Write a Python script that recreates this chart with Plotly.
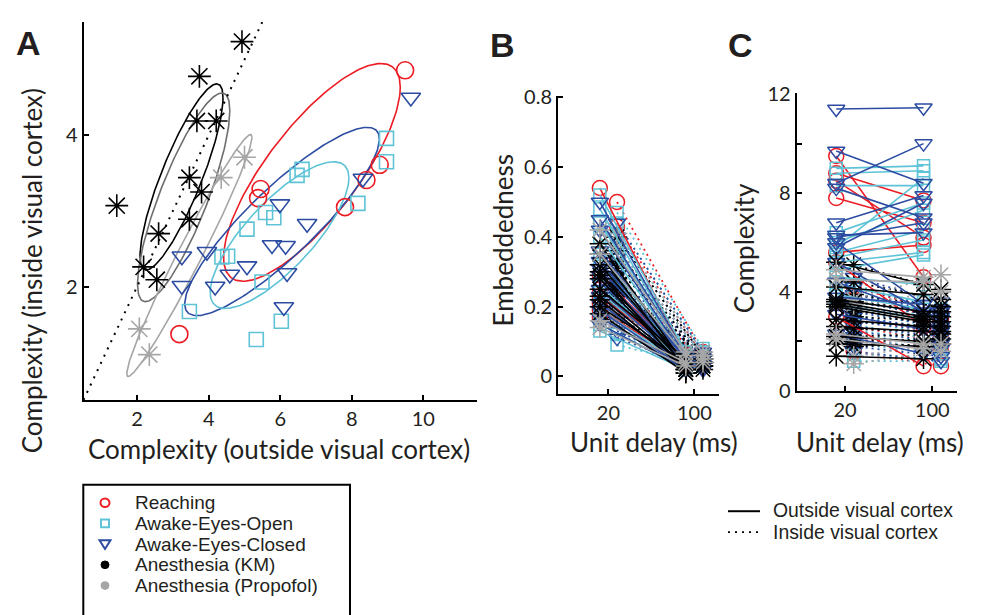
import numpy as np
import plotly.graph_objects as go

W, H = 984, 615
FONT = "Lato"
LFONT = "Liberation Sans"

# ---------------- Panel A : complexity outside (x) vs inside (y) visual cortex
reach_x = [9.49, 5.45, 5.38, 8.78, 8.41, 7.81, 3.18]
reach_y = [4.86, 3.29, 3.17, 3.61, 3.41, 3.05, 1.37]
open_x = [8.97, 8.97, 6.61, 6.47, 8.17, 5.59, 5.82, 5.07, 4.37, 4.53, 5.49, 3.46, 6.03, 5.33]
open_y = [3.96, 3.65, 3.55, 3.47, 3.10, 2.98, 2.91, 2.76, 2.39, 2.40, 2.06, 1.67, 1.54, 1.30]
closed_x = [9.65, 8.31, 5.99, 6.75, 5.77, 6.15, 3.25, 3.95, 5.07, 4.59, 6.19, 3.25, 4.18, 6.10]
closed_y = [4.50, 3.43, 3.09, 2.83, 2.55, 2.54, 2.40, 2.46, 2.27, 2.16, 2.18, 2.01, 2.00, 1.73]
km_x = [4.93, 3.74, 3.67, 4.21, 1.43, 3.46, 3.80, 3.46, 2.60, 2.18, 2.55]
km_y = [5.24, 4.78, 4.19, 4.19, 3.07, 3.44, 3.25, 2.89, 2.70, 2.26, 2.09]
prop_x = [5.00, 4.35, 2.06, 2.34]
prop_y = [3.71, 3.44, 1.44, 1.10]

# covariance ellipses (centre, spread, correlation)
ell_cx = [6.885, 6.05, 5.98, 3.24, 3.30, 3.46]
ell_cy = [3.51, 2.86, 2.68, 3.45, 3.18, 2.41]
ell_sx = [2.47, 2.72, 1.94, 1.16, 1.29, 1.75]
ell_sy = [1.44, 1.245, 0.97, 1.23, 1.38, 1.60]
ell_rho = [0.78, 0.875, 0.78, 0.85, 0.83, 0.977]

# ---------------- Panel B : embeddedness at unit delays 20 / 100 ms
delays = ["20", "100"]
reach_b_out20 = [0.54, 0.29, 0.25, 0.23, 0.21, 0.19, 0.17]
reach_b_out100 = [0.06, 0.05, 0.04, 0.05, 0.03, 0.04, 0.03]
reach_b_in20 = [0.50, 0.43, 0.34, 0.27, 0.23, 0.20, 0.16]
reach_b_in100 = [0.07, 0.06, 0.05, 0.05, 0.04, 0.04, 0.03]
open_b_out20 = [0.52, 0.48, 0.44, 0.40, 0.35, 0.32, 0.29, 0.26, 0.24, 0.21, 0.19, 0.17, 0.15, 0.13]
open_b_out100 = [0.07, 0.06, 0.06, 0.05, 0.05, 0.05, 0.04, 0.04, 0.04, 0.03, 0.03, 0.03, 0.02, 0.02]
open_b_in20 = [0.47, 0.44, 0.41, 0.37, 0.34, 0.31, 0.28, 0.25, 0.22, 0.19, 0.16, 0.14, 0.12, 0.09]
open_b_in100 = [0.08, 0.07, 0.07, 0.06, 0.06, 0.05, 0.05, 0.05, 0.04, 0.04, 0.04, 0.03, 0.03, 0.03]
closed_b_out20 = [0.50, 0.45, 0.42, 0.36, 0.33, 0.31, 0.29, 0.27, 0.25, 0.23, 0.21, 0.19, 0.17, 0.15]
closed_b_out100 = [0.06, 0.06, 0.05, 0.05, 0.05, 0.04, 0.04, 0.04, 0.03, 0.03, 0.03, 0.02, 0.02, 0.02]
closed_b_in20 = [0.44, 0.40, 0.37, 0.34, 0.31, 0.29, 0.27, 0.25, 0.23, 0.21, 0.19, 0.16, 0.13, 0.11]
closed_b_in100 = [0.07, 0.06, 0.06, 0.05, 0.05, 0.05, 0.04, 0.04, 0.04, 0.03, 0.03, 0.03, 0.02, 0.02]
km_b_out20 = [0.38, 0.35, 0.32, 0.30, 0.29, 0.28, 0.25, 0.23, 0.22, 0.20, 0.18]
km_b_out100 = [0.03, 0.02, 0.04, 0.01, 0.03, 0.02, 0.05, 0.03, 0.02, 0.04, 0.01]
km_b_in20 = [0.40, 0.36, 0.33, 0.31, 0.28, 0.26, 0.25, 0.23, 0.21, 0.19, 0.17]
km_b_in100 = [0.06, 0.05, 0.04, 0.05, 0.03, 0.04, 0.05, 0.03, 0.04, 0.02, 0.03]
prop_b_out20 = [0.42, 0.35, 0.16, 0.14]
prop_b_out100 = [0.07, 0.06, 0.04, 0.03]
prop_b_in20 = [0.41, 0.37, 0.19, 0.16]
prop_b_in100 = [0.07, 0.06, 0.05, 0.04]

# ---------------- Panel C : complexity at unit delays 20 / 100 ms
reach_c_out20 = [9.5, 8.8, 8.5, 7.8, 5.6, 5.2, 3.0]
reach_c_out100 = [4.6, 7.7, 6.2, 6.8, 5.9, 2.6, 1.0]
reach_c_in20 = [4.2, 3.8, 3.3, 3.0, 2.6, 2.2, 1.6]
reach_c_in100 = [3.2, 2.9, 2.6, 2.3, 2.0, 1.6, 1.0]
open_c_out20 = [9.0, 8.8, 8.3, 6.4, 6.0, 5.8, 5.6, 5.4, 5.2, 4.9, 4.6, 4.3, 3.9, 3.5]
open_c_out100 = [9.1, 8.9, 8.3, 7.6, 7.3, 8.6, 6.5, 6.1, 5.6, 5.5, 4.3, 3.6, 3.3, 2.9]
open_c_in20 = [4.3, 4.0, 3.8, 3.5, 3.3, 3.1, 2.9, 2.7, 2.5, 2.3, 2.1, 1.9, 1.5, 1.2]
open_c_in100 = [3.3, 3.0, 2.8, 2.7, 2.5, 2.3, 2.2, 2.0, 1.9, 1.8, 1.7, 1.5, 1.3, 1.2]
closed_c_out20 = [11.4, 9.7, 8.4, 8.2, 6.8, 6.3, 6.2, 6.0, 5.8, 5.2, 4.4, 3.8, 3.1, 2.3]
closed_c_out100 = [11.45, 8.4, 10.0, 7.0, 7.9, 6.4, 6.8, 3.5, 7.6, 3.2, 3.1, 3.5, 2.5, 1.5]
closed_c_in20 = [4.6, 4.2, 3.9, 3.6, 3.4, 3.2, 3.0, 2.8, 2.6, 2.4, 2.2, 2.0, 1.8, 1.6]
closed_c_in100 = [3.6, 3.3, 3.2, 3.0, 2.9, 2.6, 2.5, 2.4, 2.2, 2.0, 1.9, 1.7, 1.4, 1.2]
km_c_out20 = [5.2, 4.2, 3.7, 3.6, 3.5, 3.4, 2.9, 2.6, 2.2, 1.9, 1.4]
km_c_out100 = [4.3, 3.9, 3.2, 3.0, 2.9, 2.8, 2.6, 2.4, 2.0, 1.8, 1.3]
km_c_in20 = [5.1, 4.4, 3.9, 3.6, 3.2, 3.0, 2.8, 2.5, 2.2, 2.0, 1.8]
km_c_in100 = [4.1, 3.7, 3.4, 3.2, 3.0, 2.8, 2.6, 2.4, 2.3, 2.1, 1.9]
prop_c_out20 = [4.9, 4.5, 2.3, 2.1]
prop_c_out100 = [4.6, 4.4, 1.9, 1.7]
prop_c_in20 = [3.7, 3.5, 1.4, 1.1]
prop_c_in100 = [4.7, 4.0, 1.9, 1.6]

group_names = ["Reaching", "Awake-Eyes-Open", "Awake-Eyes-Closed", "Anesthesia (KM)", "Anesthesia (Propofol)"]
line_labels = ["Outside visual cortex", "Inside visual cortex"]

# ---------------- styles
RED, CYAN, BLUE, BLACK, GRAY, DGRAY = "#ec1c24", "#5ec3d6", "#2c4ca2", "#000000", "#a6a6a6", "#6e6e6e"
colors = [RED, CYAN, BLUE, BLACK, GRAY]
symbols = ["circle-open", "square-open", "triangle-down-open", "asterisk-open", "asterisk-open"]
sizesA = [17, 14, 17, 19, 19]
sizesBC = [15, 12, 15, 17, 17]
ell_colors = [RED, BLUE, CYAN, BLACK, DGRAY, GRAY]
DOT = "2px,4px"

# the page puts the figure 8 px in from the top-left corner; layout positions below
# are given in picture pixels and converted to paper fractions here
OX, OY = 8, 8


def px(x):
    return (x - OX) / W


def py(y):
    return 1 - (y - OY) / H


fig = go.Figure()

# ----- Panel A
for cx, cy, sx, sy, r, c in zip(ell_cx, ell_cy, ell_sx, ell_sy, ell_rho, ell_colors):
    t = np.linspace(0, 2 * np.pi, 200)
    ex = cx + sx * np.cos(t)
    ey = cy + sy * (r * np.cos(t) + np.sqrt(1 - r * r) * np.sin(t))
    fig.add_trace(go.Scatter(x=ex, y=ey, mode="lines", line=dict(color=c, width=1.6),
                             xaxis="x", yaxis="y", showlegend=False, hoverinfo="skip"))

ax_pts = [(reach_x, reach_y), (open_x, open_y), (closed_x, closed_y), (km_x, km_y), (prop_x, prop_y)]
for i, (xs, ys) in enumerate(ax_pts):
    fig.add_trace(go.Scatter(x=xs, y=ys, mode="markers", name=group_names[i],
                             marker=dict(symbol=symbols[i], size=sizesA[i], color=colors[i],
                                         line=dict(color=colors[i], width=1.6)),
                             xaxis="x", yaxis="y", showlegend=False))

fig.add_shape(type="line", xref="x", yref="y", x0=0.5, y0=0.5, x1=5.5, y1=5.5,
              line=dict(color="black", width=2, dash="2px,6px"))

# ----- Panels B and C
OFF = 0.1


def add_pairs(v20, v100, off, gi, dash, xa, ya):
    xs, ys = [], []
    for a, b in zip(v20, v100):
        xs += [delays.index("20") + off, delays.index("100") + off, None]
        ys += [a, b, None]
    fig.add_trace(go.Scatter(x=xs, y=ys, mode="lines+markers", connectgaps=False,
                             line=dict(color=colors[gi], width=1.6 if dash == "solid" else 1.8, dash=dash),
                             marker=dict(symbol=symbols[gi], size=sizesBC[gi], color=colors[gi],
                                         line=dict(color=colors[gi], width=1.5)),
                             xaxis=xa, yaxis=ya, showlegend=False, hoverinfo="skip"))


b_sets = [
    (reach_b_out20, reach_b_out100, reach_b_in20, reach_b_in100),
    (open_b_out20, open_b_out100, open_b_in20, open_b_in100),
    (closed_b_out20, closed_b_out100, closed_b_in20, closed_b_in100),
    (km_b_out20, km_b_out100, km_b_in20, km_b_in100),
    (prop_b_out20, prop_b_out100, prop_b_in20, prop_b_in100),
]
c_sets = [
    (reach_c_out20, reach_c_out100, reach_c_in20, reach_c_in100),
    (open_c_out20, open_c_out100, open_c_in20, open_c_in100),
    (closed_c_out20, closed_c_out100, closed_c_in20, closed_c_in100),
    (km_c_out20, km_c_out100, km_c_in20, km_c_in100),
    (prop_c_out20, prop_c_out100, prop_c_in20, prop_c_in100),
]
for sets, xa, ya in [(b_sets, "x2", "y2"), (c_sets, "x3", "y3")]:
    for gi, (o20, o100, i20, i100) in enumerate(sets):
        add_pairs(i20, i100, +OFF, gi, DOT, xa, ya)
    for gi, (o20, o100, i20, i100) in enumerate(sets):
        add_pairs(o20, o100, -OFF, gi, "solid", xa, ya)

# ----- axes
axis_common = dict(showline=True, linecolor="black", linewidth=2, ticks="inside", ticklen=5,
                   tickwidth=1.5, tickcolor="black", showgrid=False, zeroline=False,
                   tickfont=dict(family=FONT, size=20, color="#231f20"), mirror=False)

layout = dict(
    width=W, height=H, margin=dict(l=0, r=0, t=0, b=0),
    paper_bgcolor="white", plot_bgcolor="rgba(0,0,0,0)", showlegend=False,
    xaxis=dict(domain=[px(83.5), px(477)], range=[0.5, 11.5], tickvals=[2, 4, 6, 8, 10],
               anchor="y", **axis_common),
    yaxis=dict(domain=[py(402.7), py(10)], range=[0.5, 5.5], tickvals=[2, 4], anchor="x", **axis_common),
    xaxis2=dict(domain=[px(558), px(719.3)], range=[-0.587, 1.29], tickvals=[0, 1], ticktext=delays,
                anchor="y2", **axis_common),
    yaxis2=dict(domain=[py(396.7), py(86.7)], range=[-0.0507, 0.8044], tickvals=[0, 0.2, 0.4, 0.6, 0.8],
                ticktext=["0", "0.2", "0.4", "0.6", "0.8"], anchor="x2", **axis_common),
    xaxis3=dict(domain=[px(796.7), px(956.7)], range=[-0.553, 1.28], tickvals=[0, 1], ticktext=delays,
                anchor="y3", **axis_common),
    yaxis3=dict(domain=[py(393.3), py(84)], range=[0, 12.04], tickvals=[0, 2, 4, 6, 8, 10, 12],
                ticktext=["0", "", "4", "", "8", "", "12"], anchor="x3", **axis_common),
)
fig.update_layout(**layout)

# ----- texts
TXT = "#231f20"


def txt(x, y, s, size, angle=0, bold=False, xanchor="center", family=FONT):
    fig.add_annotation(x=px(x), y=py(y), xref="paper", yref="paper", text=f"<b>{s}</b>" if bold else s,
                       showarrow=False, textangle=angle, xanchor=xanchor, yanchor="middle",
                       font=dict(family=family, size=size, color=TXT))


txt(28.5, 32, "A", 34, bold=True, family="Liberation Sans")
txt(502, 34, "B", 34, bold=True, family="Liberation Sans")
txt(740, 34, "C", 34, bold=True, family="Liberation Sans")
txt(279, 454, "Complexity (outside visual cortex)", 26)
txt(32, 269, "Complexity (inside visual cortex)", 26, angle=-90)
txt(503, 237, "Embeddedness", 26, angle=-90)
txt(744, 245, "Complexity", 26, angle=-90)
txt(654, 446, "Unit delay (ms)", 26)
txt(880, 446, "Unit delay (ms)", 26)

# ----- legend panel A (drawn by hand)
fig.add_shape(type="rect", xref="paper", yref="paper", x0=px(83.3), x1=px(350), y0=py(490.7), y1=py(640),
              line=dict(color="black", width=2))
rows = [509.5, 531, 552.5, 574, 595.5]
mx = 105
for gi, ry in enumerate(rows):
    txt(133, ry, group_names[gi], 19, xanchor="left", family=LFONT)
r = 4.5
fig.add_shape(type="circle", xref="paper", yref="paper", x0=px(mx - r), x1=px(mx + r), y0=py(rows[0] - r), y1=py(rows[0] + r),
              line=dict(color=RED, width=2))
fig.add_shape(type="rect", xref="paper", yref="paper", x0=px(mx - 4), x1=px(mx + 4), y0=py(rows[1] - 4), y1=py(rows[1] + 4),
              line=dict(color=CYAN, width=2))
fig.add_shape(type="path", xref="paper", yref="paper",
              path=f"M {px(mx-5.5)} {py(rows[2]-4)} L {px(mx+5.5)} {py(rows[2]-4)} L {px(mx)} {py(rows[2]+5)} Z",
              line=dict(color=BLUE, width=2))
for gi, c in [(3, BLACK), (4, GRAY)]:
    fig.add_shape(type="circle", xref="paper", yref="paper", x0=px(mx - 4), x1=px(mx + 4), y0=py(rows[gi] - 4),
                  y1=py(rows[gi] + 4), line=dict(color=c, width=1), fillcolor=c)

# ----- legend panels B/C
fig.add_shape(type="line", xref="paper", yref="paper", x0=px(728), x1=px(760), y0=py(518.3), y1=py(518.3),
              line=dict(color="black", width=2))
fig.add_shape(type="line", xref="paper", yref="paper", x0=px(728), x1=px(760), y0=py(540), y1=py(540),
              line=dict(color="black", width=1.6, dash="2px,5px"))
txt(771, 517.5, line_labels[0], 19.4, xanchor="left", family=LFONT)
txt(771, 539.5, line_labels[1], 19.4, xanchor="left", family=LFONT)

fig.write_html("out.html")
